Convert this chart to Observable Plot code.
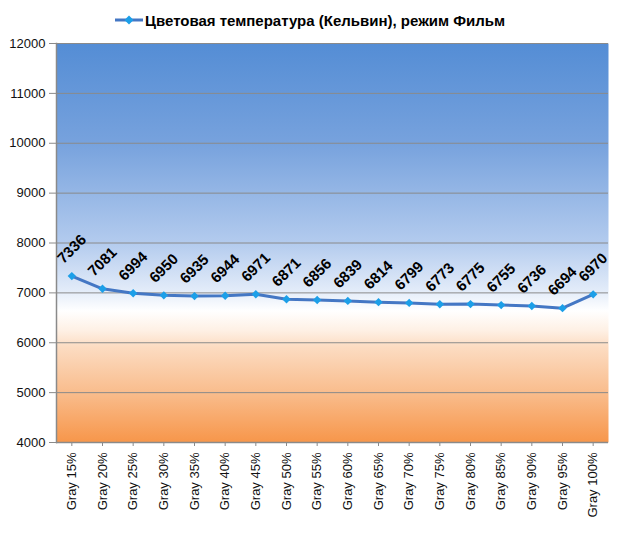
<!DOCTYPE html>
<html>
<head>
<meta charset="utf-8">
<script src="https://cdn.jsdelivr.net/npm/d3@7"></script>
<script src="https://cdn.jsdelivr.net/npm/@observablehq/plot@0.6"></script>
<style>
  body { margin: 0; background: #fff; font-family: "Liberation Sans", Arial, sans-serif; }
  #wrap { position: relative; width: 626px; height: 542px; }
  #legend { position: absolute; left: 114px; top: 9px; height: 22px; display: flex; align-items: center;
            font: bold 15px "Liberation Sans", Arial, sans-serif; color: #000; white-space: nowrap; }
  #legend svg { margin-right: 1px; }
  #chart { position: absolute; left: 0; top: 36px; }
</style>
</head>
<body>
<div id="wrap">
  <div id="legend"></div>
  <div id="chart"></div>
</div>
<script>
const seriesName = "Цветовая температура (Кельвин), режим Фильм";
const categories = ["Gray 15%","Gray 20%","Gray 25%","Gray 30%","Gray 35%","Gray 40%","Gray 45%","Gray 50%","Gray 55%","Gray 60%","Gray 65%","Gray 70%","Gray 75%","Gray 80%","Gray 85%","Gray 90%","Gray 95%","Gray 100%"];
const values = [7336, 7081, 6994, 6950, 6935, 6944, 6971, 6871, 6856, 6839, 6814, 6799, 6773, 6775, 6755, 6736, 6694, 6970];
const yTicks = [4000, 5000, 6000, 7000, 8000, 9000, 10000, 11000, 12000];

const lineColor = "#4477c4";
const markerColor = "#1c9fe8";

const data = categories.map((c, i) => ({cat: c, v: values[i]}));

// legend
const legend = document.getElementById("legend");
legend.innerHTML = `<svg width="30" height="12"><line x1="1" y1="6" x2="29" y2="6" stroke="${lineColor}" stroke-width="3"/><path d="M15,1.5 L19.5,6 L15,10.5 L10.5,6 Z" fill="${markerColor}"/></svg><span>${seriesName}</span>`;

const stops = [
  [0.00, "#548dd5"],
  [0.25, "#77a2dd"],
  [0.50, "#b3cbee"],
  [0.62, "#e3ecf9"],
  [0.67, "#ffffff"],
  [0.72, "#fef0e4"],
  [0.76, "#fcdcc2"],
  [0.88, "#f9bb8a"],
  [1.00, "#f7964a"]
];

const ns = "http://www.w3.org/2000/svg";
function gradientFrame(index, scales, values, dimensions, context, next) {
  const el = next(index, scales, values, dimensions, context);
  const wrap = document.createElementNS(ns, "g");
  const defs = document.createElementNS(ns, "defs");
  const lg = document.createElementNS(ns, "linearGradient");
  lg.setAttribute("id", "bggrad");
  lg.setAttribute("x1", "0"); lg.setAttribute("y1", "0");
  lg.setAttribute("x2", "0"); lg.setAttribute("y2", "1");
  for (const [o, c] of stops) {
    const s = document.createElementNS(ns, "stop");
    s.setAttribute("offset", o);
    s.setAttribute("stop-color", c);
    lg.appendChild(s);
  }
  defs.appendChild(lg);
  wrap.appendChild(defs);
  wrap.appendChild(el);
  el.setAttribute("fill", "url(#bggrad)");
  el.querySelectorAll("rect").forEach(r => r.setAttribute("fill", "url(#bggrad)"));
  return wrap;
}

const chart = Plot.plot({
  width: 626,
  height: 506,
  marginTop: 7,
  marginBottom: 100,
  marginLeft: 56,
  marginRight: 18,
  style: {fontFamily: "'Liberation Sans', Arial, sans-serif", background: "transparent", overflow: "visible"},
  x: {type: "band", domain: categories, padding: 0, round: false, label: null},
  y: {domain: [4000, 12000], label: null},
  marks: [
    Plot.frame({fill: "#fefefe", render: gradientFrame}),
    Plot.gridY(yTicks, {stroke: "#8a8a8a", strokeOpacity: 1, strokeWidth: 1}),
    Plot.axisY(yTicks, {tickSize: 7, tickPadding: 4, fontSize: 13, stroke: "#8a8a8a", fill: "#111", tickFormat: d => String(d)}),
    Plot.axisX({tickRotate: -90, tickSize: 4, tickPadding: 6, fontSize: 13, stroke: "#8a8a8a", fill: "#111"}),
    Plot.ruleY([4000], {stroke: "#8a8a8a", strokeWidth: 1.5}),
    Plot.frame({anchor: "left", stroke: "#8a8a8a", strokeWidth: 1.5}),
    Plot.line(data, {x: "cat", y: "v", stroke: lineColor, strokeWidth: 3, curve: "linear"}),
    Plot.dot(data, {x: "cat", y: "v", symbol: "diamond2", r: 3.8, fill: markerColor, stroke: "none"}),
    Plot.text(data, {x: "cat", y: "v", text: d => String(d.v), rotate: -45, dy: -27, dx: 0,
      fontSize: 15, fontWeight: "bold", fill: "#000", textAnchor: "middle"})
  ]
});
document.getElementById("chart").appendChild(chart);
</script>
</body>
</html>
